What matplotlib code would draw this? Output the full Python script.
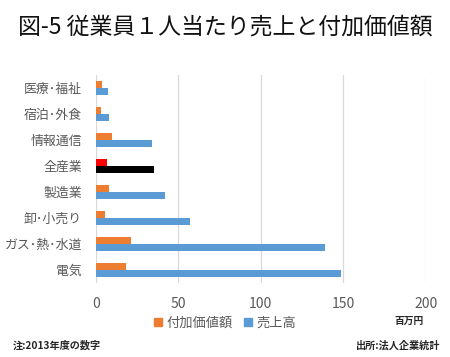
import matplotlib
matplotlib.use("Agg")
import matplotlib.pyplot as plt
import numpy as np

plt.rcParams['font.family'] = ['Noto Sans CJK JP', 'DejaVu Sans']

# データ（上から順）
categories = ["医療･福祉", "宿泊･外食", "情報通信", "全産業", "製造業", "卸･小売り", "ガス･熱･水道", "電気"]
value_added = [3.5, 3.0, 10.0, 6.6, 7.7, 5.7, 21.5, 18.4]   # 付加価値額
sales = [7.5, 8.0, 34.0, 35.0, 41.7, 56.9, 139.0, 148.7]      # 売上高
highlight = "全産業"

orange = "#ED7D31"
blue = "#5B9BD5"
gray_text = "#595959"

fig = plt.figure(figsize=(4.5, 3.57), dpi=100)
ax = fig.add_axes([0.213, 0.207, 0.733, 0.583])

y = np.arange(len(categories))
h = 0.26
c_add = ["#FF0000" if c == highlight else orange for c in categories]
c_sales = ["#000000" if c == highlight else blue for c in categories]

ax.barh(y - h / 2, value_added, height=h, color=c_add, label="付加価値額", zorder=3)
ax.barh(y + h / 2, sales, height=h, color=c_sales, label="売上高", zorder=3)

ax.set_ylim(len(categories) - 0.5, -0.5)
ax.set_xlim(0, 200)
ax.set_xticks([0, 50, 100, 150, 200])
ax.set_yticks(y)
ax.set_yticklabels(categories, fontsize=9.3, color=gray_text)
ax.tick_params(axis='x', labelsize=10, colors=gray_text, length=0, pad=10)
ax.tick_params(axis='y', length=0, pad=10)
ax.grid(axis='x', color="#D9D9D9", linewidth=0.9, zorder=0)
for s in ax.spines.values():
    s.set_visible(False)

# 凡例
handles = [plt.Rectangle((0, 0), 1, 1, color=orange), plt.Rectangle((0, 0), 1, 1, color=blue)]
fig.legend(handles, ["付加価値額", "売上高"], loc="center", bbox_to_anchor=(0.5, 0.095),
           ncol=2, frameon=False, fontsize=9.5, handlelength=0.6, handleheight=0.6,
           handletextpad=0.3, columnspacing=0.9, labelcolor=gray_text)

fig.text(0.5, 0.925, "図-5 従業員１人当たり売上と付加価値額", ha="center", va="center",
         fontsize=16.5, color="#111111")
fig.text(0.908, 0.1, "百万円", ha="center", va="center", fontsize=7, color="#262626",
         fontweight="bold")
fig.text(0.028, 0.033, "注:2013年度の数字", ha="left", va="center", fontsize=7.3,
         color="#262626", fontweight="bold")
fig.text(0.792, 0.033, "出所:法人企業統計", ha="left", va="center", fontsize=7.3,
         color="#262626", fontweight="bold")

fig.savefig("out.png", dpi=100)
